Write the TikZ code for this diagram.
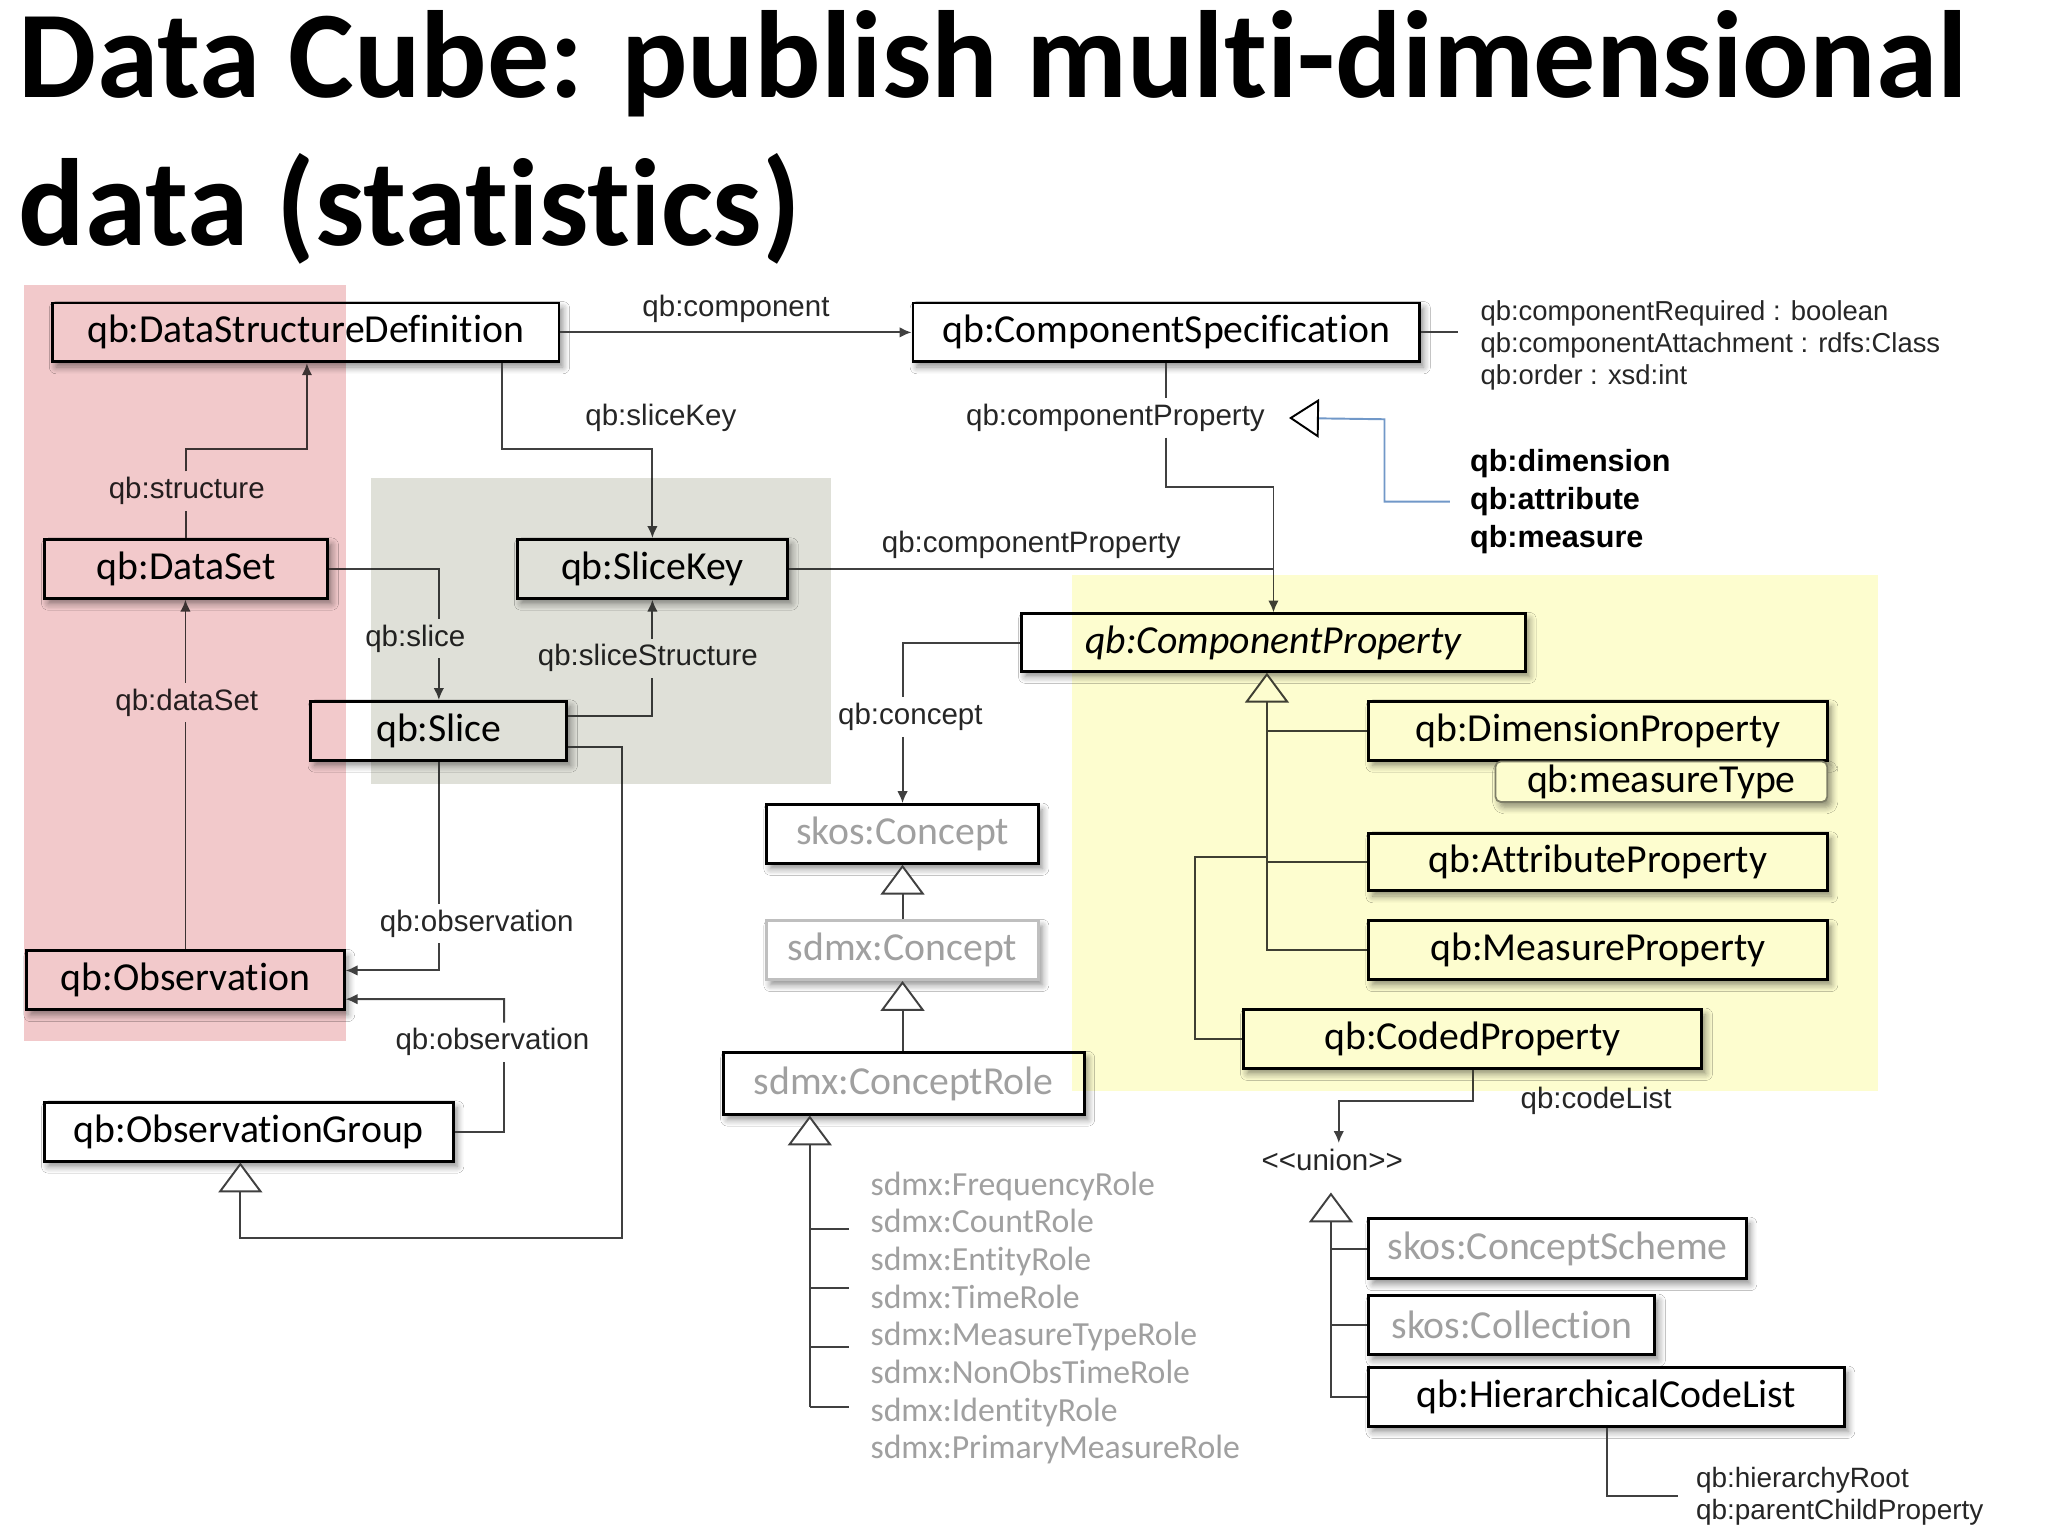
\documentclass[tikz,border=0pt]{standalone}
\usepackage{fontspec}
\setmainfont{Carlito}[Ligatures={NoCommon}]
\newfontfamily\lblfont{Liberation Sans}
\usetikzlibrary{arrows.meta,calc,shadows.blur}
\definecolor{dspink}{HTML}{F2C9CB}
\definecolor{slgray}{HTML}{DFE0D8}
\definecolor{cpyellow}{HTML}{FDFDCF}
\definecolor{skgray}{HTML}{A0A0A0}
\definecolor{subblue}{HTML}{7198C8}

\begin{document}
\begin{tikzpicture}[x=0.013061cm, y=-0.013061cm,
	wh/.style 2 args={minimum width=#1*0.37166pt, minimum height=#2*0.37166pt},
	cls/.style={draw=black, line width=0.8pt, fill=white, inner sep=0pt, font=\fontsize{11.3}{13}\selectfont, blur shadow={shadow xshift=1.1pt, shadow yshift=-1.5pt, shadow blur steps=6, shadow opacity=45}},
	ghost/.style={cls, text=skgray},
	lbl/.style={font=\lblfont\fontsize{8.4}{10}\selectfont, inner sep=1.5pt, text=black!85},
	note/.style={font=\lblfont\fontsize{7.8}{9.1}\selectfont, align=left, inner sep=0pt, text=black!85, anchor=west},
	role/.style={font=\fontsize{9.6}{11}\selectfont, text=skgray, anchor=base west, inner sep=0pt},
	conn/.style={draw=black!75, line width=0.55pt},
	assoc/.style={conn, -{Latex[length=3.4pt,width=3pt]}},
	gen/.style={conn, -{Triangle[open, fill=white, length=8.5pt, width=12.5pt]}},
	subprop/.style={draw=subblue, line width=0.55pt, -{Triangle[open, fill=white, color=black, length=8.5pt, width=11pt]}},
	titletext/.style={font=\bfseries\fontsize{35.3}{42}\selectfont, anchor=base west, inner sep=0pt}]
		\fill[white] (0,0) rectangle (1568,1176);
		\useasboundingbox (0,0) rectangle (1568,1176);
		\node[titletext] (title1) at (14,75) {Data Cube: publish multi-dimensional};
		\node[titletext] (title2) at (14,188) {data (statistics)};

		\node[cls, wh={388}{45}] (dsd) at (234,254.5) {qb:DataStructureDefinition};
		\node[cls, wh={388}{45}] (cspec) at (893,254.5) {qb:ComponentSpecification};
		\node[cls, wh={217}{45}] (dataset) at (142.5,435.5) {qb:DataSet};
		\node[cls, wh={207}{45}] (slicekey) at (499.5,435.5) {qb:SliceKey};
		\node[cls, wh={196}{45}] (slice) at (336,559.5) {qb:Slice};
		\node[cls, wh={243}{45}] (obs) at (142,750.5) {qb:Observation};
		\node[cls, wh={313}{45}] (obsgroup) at (190.5,866.5) {qb:ObservationGroup};
		\node[cls, wh={386}{44}, font=\itshape\fontsize{11.3}{13}\selectfont] (cprop) at (975,492) {qb:ComponentProperty};
		\node[cls, wh={351}{45}] (dimprop) at (1223.5,559.5) {qb:DimensionProperty};
		\node[cls, wh={254}{31}, draw=black!50, line width=0.5pt, rounded corners=1.5pt] (mtype) at (1272,598.5) {qb:measureType};
		\node[cls, wh={351}{44}] (attprop) at (1223.5,660) {qb:AttributeProperty};
		\node[cls, wh={351}{45}] (measprop) at (1223.5,727.5) {qb:MeasureProperty};
		\node[cls, wh={351}{45}] (codedprop) at (1127.5,795.5) {qb:CodedProperty};
		\node[ghost, wh={208}{45}] (skosconcept) at (691,638.5) {skos:Concept};
		\node[ghost, wh={208}{45}, draw=black!25] (sdmxconcept) at (691,727.5) {sdmx:Concept};
		\node[ghost, wh={276}{47}] (conceptrole) at (692,829.5) {sdmx:ConceptRole};
		\node[ghost, wh={289}{46}] (conceptscheme) at (1192.5,956) {skos:ConceptScheme};
		\node[ghost, wh={219}{45}] (collection) at (1157.5,1014.5) {skos:Collection};
		\node[cls, wh={364}{45}] (hcl) at (1230,1069.5) {qb:HierarchicalCodeList};

		\node[lbl] (cplbl) at (854,320) {qb:componentProperty};
		\node[lbl] (lslicekey) at (506,320) {qb:sliceKey};
		\node[lbl] (lstructure) at (143,376) {qb:structure};
		\node[lbl] (ldataset) at (143,538) {qb:dataSet};
		\node[lbl] (lslice) at (318,489) {qb:slice};
		\node[lbl] (lslicestr) at (496,504) {qb:sliceStructure};
		\node[lbl] (lobs1) at (365,707) {qb:observation};
		\node[lbl] (lobs2) at (377,798) {qb:observation};
		\node[lbl] (lconcept) at (697,549) {qb:concept};
		\node[lbl] (lcodelist) at (1222,843) {qb:codeList};
		\node[lbl] (lunion) at (1020,888) {<\kern0pt<union>\kern0pt>};
		\node[note] (cspecattr) at (1133,264.5) {qb:componentRequired : boolean\\qb:componentAttachment : rdfs:Class\\qb:order : xsd:int};
		\node[note, font=\lblfont\bfseries\fontsize{8.7}{10.8}\selectfont, text=black] (dimlist) at (1125,384) {qb:dimension\\qb:attribute\\qb:measure};
		\node[note, font=\lblfont\fontsize{7.95}{9.3}\selectfont] (hclattr) at (1298,1145.5) {qb:hierarchyRoot\\qb:parentChildProperty};
		\foreach \r [count=\i from 0] in {Frequency,Count,Entity,Time,MeasureType,NonObsTime,Identity,PrimaryMeasure}
			\node[role] (role\i) at (666,915+28.86*\i) {sdmx:\r Role};

		\coordinate (k1) at (235,344);
		\coordinate (k2) at (975,373);
		\coordinate (k3) at (384,344);
		\coordinate (k5) at (386,765);
		\coordinate (k6) at (476,948);
		\coordinate (k7) at (184,948);
		\coordinate (k8) at (915,656);
		\coordinate (k9) at (1025,843);
		\coordinate (trunk) at (970,728);
		\coordinate (rolebot) at (620,1077);
		\coordinate (uniontip) at (1019,913);
		\coordinate (kink) at (1060,321);

		\draw[assoc] (dsd) -- node[lbl, above=1pt] (lcomp) {qb:component} (cspec);
		\draw[conn] (cspec.east) -- ++(28,0);
		\draw[conn] (cspec.south) -- (cspec.south |- cplbl.north);
		\draw[assoc] (cspec.south |- cplbl.south) |- (k2) -- (cprop.north);
		\draw[conn] (slicekey.east) -- node[lbl, above=1pt] (lcprop) {qb:componentProperty} (slicekey.east -| k2);
		\draw[subprop] ($(dimlist.west)+(-15,0)$) -| (kink) -- ($(cplbl.east)+(14,0)$);
		\draw[assoc] (k3 |- dsd.south) -- (k3) -| (slicekey.north);
		\draw[conn] (dataset.north) -- (dataset.north |- lstructure.south);
		\draw[assoc] (dataset.north |- lstructure.north) |- (k1) -- (k1 |- dsd.south);
		\draw[conn] (obs.north) -- (obs.north |- ldataset.south);
		\draw[assoc] (obs.north |- ldataset.north) -- (obs.north |- dataset.south);
		\draw[conn] (dataset.east) -| (slice.north |- lslice.north);
		\draw[assoc] (slice.north |- lslice.south) -- (slice.north);
		\draw[conn] ($(slice.east)+(0,-11.5)$) -| (slicekey.south |- lslicestr.south);
		\draw[assoc] (slicekey.south |- lslicestr.north) -- (slicekey.south);
		\draw[conn] (slice.south) -- (slice.south |- lobs1.north);
		\draw[assoc] (slice.south |- lobs1.south) |- ($(obs.east)+(0,-7.5)$);
		\draw[conn] (obsgroup.east) -| (k5 |- lobs2.south);
		\draw[assoc] (k5 |- lobs2.north) -- (k5) -- ($(obs.east)+(0,14.5)$);
		\draw[gen] ($(slice.east)+(0,12.5)$) -| (k6) -| (k7 |- obsgroup.south);
		\draw[conn] (cprop.west) -| (skosconcept.north |- lconcept.north);
		\draw[assoc] (skosconcept.north |- lconcept.south) -- (skosconcept.north);
		\draw[gen] (sdmxconcept) -- (skosconcept);
		\draw[gen] (sdmxconcept.south |- conceptrole.north) -- (sdmxconcept.south);
		\draw[gen] (rolebot) -- (rolebot |- conceptrole.south);
		\foreach \y in {941,986,1031,1077}
			\draw[conn] (rolebot |- 0,\y) -- ++(30,0);
		\draw[gen] (measprop.west) -- (measprop.west -| trunk) -- (trunk |- cprop.south);
		\draw[conn] (dimprop.west) -- (dimprop.west -| trunk);
		\draw[conn] (attprop.west) -- (attprop.west -| trunk);
		\draw[conn] (k8 -| trunk) -- (k8) |- (codedprop.west);
		\draw[assoc] (codedprop.south) |- (k9) -- (k9 |- lunion.north);
		\draw[gen] (hcl.west) -| (uniontip);
		\draw[conn] (conceptscheme.west) -- (conceptscheme.west -| uniontip);
		\draw[conn] (collection.west) -- (collection.west -| uniontip);
		\draw[conn] (hcl.south) |- ($(hclattr.west)+(-13,0)$);

		\begin{scope}[blend mode=multiply]
			\fill[dspink] (18,218) rectangle (265,797);
			\fill[slgray] (284,366) rectangle (636,600);
			\fill[cpyellow] (821,440) rectangle (1438,835);
		\end{scope}
	\end{tikzpicture}
\end{document}
